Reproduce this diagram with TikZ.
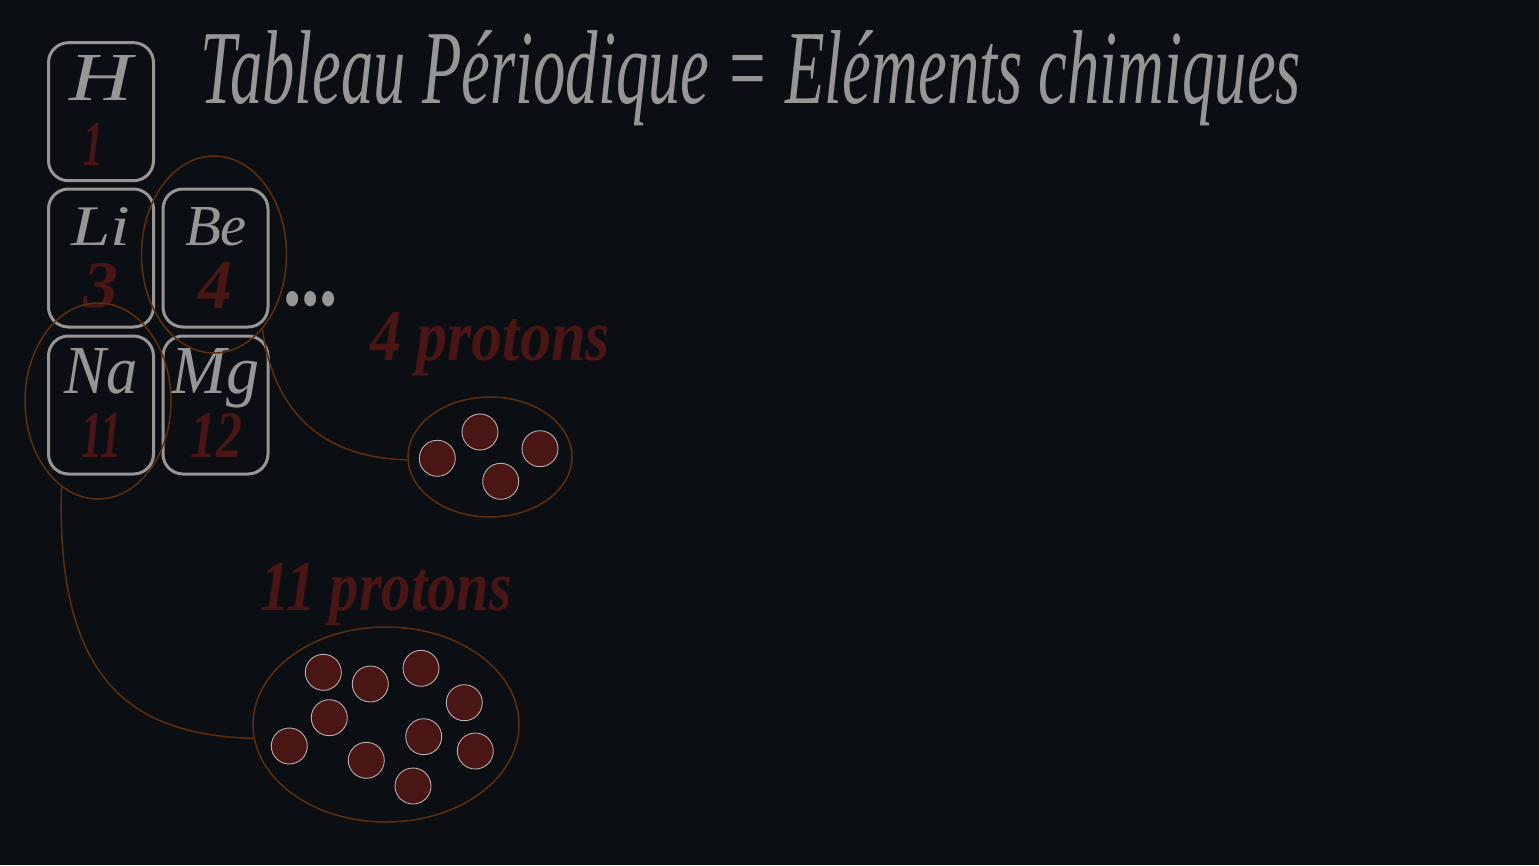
\documentclass[tikz,border=0pt]{standalone}
\usepackage{fontspec}
\setmainfont{Liberation Serif}
\usepackage{graphicx}
\usetikzlibrary{shapes.geometric}
\definecolor{bg}{HTML}{0B0E13}
\definecolor{chalk}{HTML}{979695}
\definecolor{wine}{HTML}{4A1515}
\definecolor{rust}{HTML}{5E2F0E}
\definecolor{rim}{HTML}{B8B0AE}
\newcommand\fitbox[3]{\resizebox{#1pt}{#2pt}{#3}}
\begin{document}
\begin{tikzpicture}[x=1pt,y=-1pt,
  elbox/.style={draw=chalk, line width=3pt, rounded corners=20pt, minimum width=105pt, minimum height=138pt, inner sep=0pt},
  txt/.style={inner sep=0pt, outer sep=0pt},
  sym/.style={txt, anchor=base, text=chalk, font=\itshape},
  num/.style={txt, anchor=base, text=wine, font=\bfseries\itshape},
  ring/.style={ellipse, draw=rust, line width=1.5pt, inner sep=0pt},
  conn/.style={draw=rust, line width=1.5pt},
  proton/.style={circle, fill=wine, draw=rim, line width=0.9pt, minimum size=36pt, inner sep=0pt}
]
\useasboundingbox (0,0) rectangle (1539,865);
\fill[bg] (0,0) rectangle (1539,865);

% title
\node[txt, anchor=base west, text=chalk, font=\itshape] (title) at (200,103)
  {\fitbox{1100}{73}{Tableau Périodique = Eléments chimiques}};

% element boxes
\node[elbox] (H)  at (101,111.7) {};
\node[elbox] (Li) at (101,258) {};
\node[elbox] (Be) at (215.5,258) {};
\node[elbox] (Na) at (101,405) {};
\node[elbox] (Mg) at (215.5,405) {};

% atomic numbers
\node[num] (n1)  at (93,165)  {\fitbox{20}{42}{1}};
\node[num] (n3)  at (100.5,307) {\fitbox{35}{44}{3}};
\node[num] (n4)  at (215,308) {\fitbox{34}{46}{4}};
\node[num] (n11) at (102,457) {\fitbox{40}{44}{11}};
\node[num] (n12) at (216,457) {\fitbox{52}{44}{12}};

% symbols
\node[sym] (sH)  at (101.5,100) {\fitbox{63}{45}{H}};
\node[sym] (sLi) at (100.5,245) {\fitbox{59}{38}{Li}};
\node[sym] (sBe) at (216,245)   {\fitbox{62}{38}{Be}};
\node[sym] (sNa) at (101.5,393) {\fitbox{73}{45}{Na}};
\node[sym] (sMg) at (216,393)   {\fitbox{88}{45}{Mg}};

% ellipsis
\node[txt, anchor=base west, text=chalk, font=\bfseries] (dots) at (283,305) {\fitbox{55}{14}{...}};

% highlight rings
\node[ring, minimum width=145pt, minimum height=197pt] (BeR) at (214,254.5) {};
\node[ring, minimum width=146pt, minimum height=196pt] (NaR) at (98,401) {};

% labels
\node[txt, anchor=base west, text=wine, font=\bfseries\itshape] (l4) at (370,360)
  {\fitbox{240}{48}{4 protons}};
\node[txt, anchor=base west, text=wine, font=\bfseries\itshape] (l11) at (260,610)
  {\fitbox{252}{47}{11 protons}};

% nuclei
\node[ring, minimum width=164pt, minimum height=120pt] (nucA) at (490,457) {};
\node[ring, minimum width=266pt, minimum height=195pt] (nucB) at (386,724.5) {};

% connectors
\draw[conn] (BeR.-57) .. controls (275,420) and (330,458) .. (nucA.182);
\draw[conn] (NaR.-113) .. controls (55,690) and (140,735) .. (nucB.186);

% protons, 4
\node[proton] (a1) at (437.3,458.3) {};
\node[proton] (a2) at (480,432) {};
\node[proton] (a3) at (540,448.7) {};
\node[proton] (a4) at (500.7,481.3) {};

% protons, 11
\node[proton] (b1)  at (323.3,672.3) {};
\node[proton] (b2)  at (370.3,684) {};
\node[proton] (b3)  at (421,668.3) {};
\node[proton] (b4)  at (464.3,702.7) {};
\node[proton] (b5)  at (329.3,717.7) {};
\node[proton] (b6)  at (289.3,746) {};
\node[proton] (b7)  at (423.7,736.7) {};
\node[proton] (b8)  at (475.3,751) {};
\node[proton] (b9)  at (366.3,760.3) {};
\node[proton] (b10) at (413,786) {};
\end{tikzpicture}
\end{document}
